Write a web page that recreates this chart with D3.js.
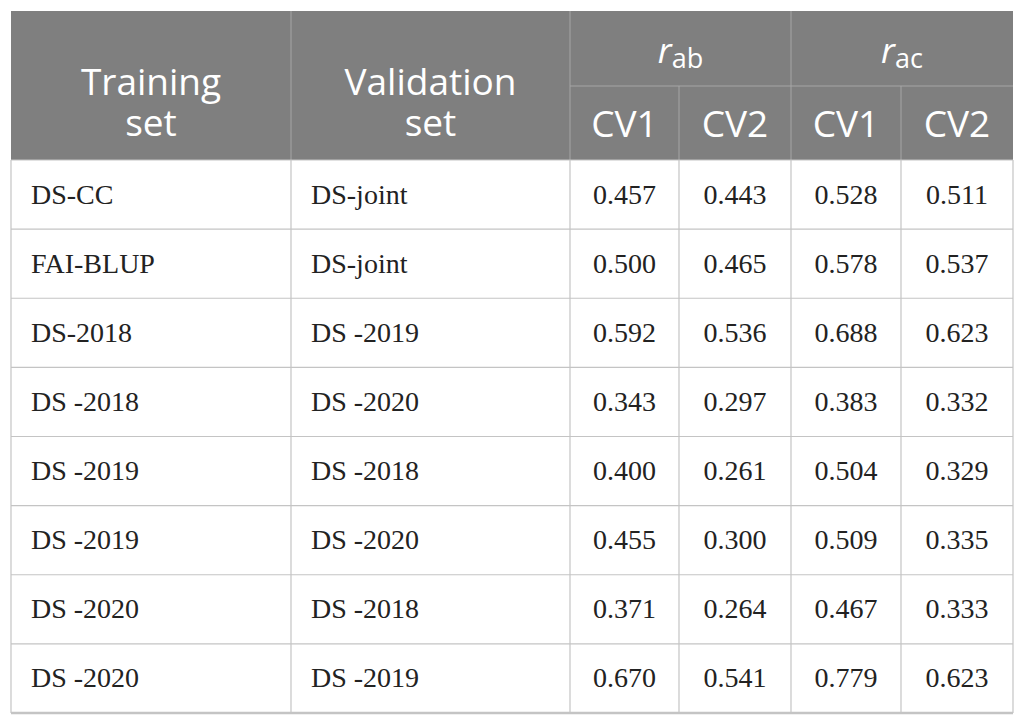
<!DOCTYPE html>
<html>
<head>
<meta charset="utf-8">
<script src="https://cdn.jsdelivr.net/npm/d3@7"></script>
<style>
  body { margin: 0; background: #fff; }
</style>
</head>
<body>
<div id="chart"></div>
<script>
var training = ["DS-CC", "FAI-BLUP", "DS-2018", "DS -2018", "DS -2019", "DS -2019", "DS -2020", "DS -2020"];
var validation = ["DS-joint", "DS-joint", "DS -2019", "DS -2020", "DS -2018", "DS -2020", "DS -2018", "DS -2019"];
var rabCV1 = ["0.457", "0.500", "0.592", "0.343", "0.400", "0.455", "0.371", "0.670"];
var rabCV2 = ["0.443", "0.465", "0.536", "0.297", "0.261", "0.300", "0.264", "0.541"];
var racCV1 = ["0.528", "0.578", "0.688", "0.383", "0.504", "0.509", "0.467", "0.779"];
var racCV2 = ["0.511", "0.537", "0.623", "0.332", "0.329", "0.335", "0.333", "0.623"];
var groups = [["r", "ab"], ["r", "ac"]];
var subHeads = ["CV1", "CV2", "CV1", "CV2"];

var w = 1025, h = 724;
var left = 11, right = 1013, tTop = 11, headMid = 86, headBot = 160, bottom = 713;
var colEdges = [left, 291, 570, 679, 791, 901, right];
var headFill = "#7f7f7f", lineCol = "#c4c4c4";
var sans = "'Open Sans', 'Noto Sans', sans-serif";
var serif = "'Liberation Serif', 'Times New Roman', serif";

var svg = d3.select("#chart").append("svg").attr("width", w).attr("height", h);

var yScale = d3.scaleBand().domain(d3.range(training.length)).range([headBot, bottom]);

// header background
svg.append("rect").attr("x", left).attr("y", tTop)
  .attr("width", right - left).attr("height", headBot - tTop).attr("fill", headFill);

// header lines
var hl = svg.append("g").attr("stroke", "#a6a6a6").attr("stroke-width", 1);
[291, 570, 791].forEach(function(x) {
  hl.append("line").attr("x1", x).attr("x2", x).attr("y1", tTop).attr("y2", headBot);
});
[679, 901].forEach(function(x) {
  hl.append("line").attr("x1", x).attr("x2", x).attr("y1", headMid).attr("y2", headBot);
});
hl.append("line").attr("x1", 570).attr("x2", right).attr("y1", headMid).attr("y2", headMid);

// header text
function twoLine(cx, a, b) {
  var t = svg.append("text").attr("x", cx).attr("text-anchor", "middle")
    .attr("font-family", sans).attr("font-size", 37).attr("fill", "#fff");
  t.append("tspan").attr("x", cx).attr("y", 95).text(a);
  t.append("tspan").attr("x", cx).attr("y", 136).text(b);
}
twoLine((colEdges[0] + colEdges[1]) / 2, "Training", "set");
twoLine((colEdges[1] + colEdges[2]) / 2, "Validation", "set");

groups.forEach(function(g, i) {
  var cx = (colEdges[2 + i * 2] + colEdges[4 + i * 2]) / 2;
  var t = svg.append("text").attr("x", cx).attr("y", 63).attr("text-anchor", "middle")
    .attr("font-family", sans).attr("font-size", 35).attr("fill", "#fff");
  t.append("tspan").attr("font-style", "italic").text(g[0]);
  t.append("tspan").attr("font-size", 27).attr("dy", 5).text(g[1]);
});

subHeads.forEach(function(s, i) {
  svg.append("text").attr("x", (colEdges[2 + i] + colEdges[3 + i]) / 2).attr("y", 137)
    .attr("text-anchor", "middle").attr("font-family", sans).attr("font-size", 37)
    .attr("fill", "#fff").text(s);
});

// body grid
var bl = svg.append("g").attr("stroke", lineCol).attr("stroke-width", 1.2);
colEdges.forEach(function(x) {
  bl.append("line").attr("x1", x).attr("x2", x).attr("y1", headBot).attr("y2", bottom);
});
d3.range(training.length + 1).forEach(function(i) {
  var y = i < training.length ? yScale(i) : bottom;
  bl.append("line").attr("x1", left).attr("x2", right).attr("y1", y).attr("y2", y)
    .attr("stroke-width", i === training.length ? 2.5 : 1.2);
});

// body text
var cols = [training, validation, rabCV1, rabCV2, racCV1, racCV2];
cols.forEach(function(col, c) {
  svg.append("g").selectAll("text").data(col).join("text")
    .attr("x", c < 2 ? colEdges[c] + 20 : (colEdges[c] + colEdges[c + 1]) / 2)
    .attr("y", function(d, i) { return yScale(i) + yScale.bandwidth() / 2 + 9; })
    .attr("text-anchor", c < 2 ? "start" : "middle")
    .attr("font-family", serif).attr("font-size", 28).attr("fill", "#222")
    .text(function(d) { return d; });
});
</script>
</body>
</html>
